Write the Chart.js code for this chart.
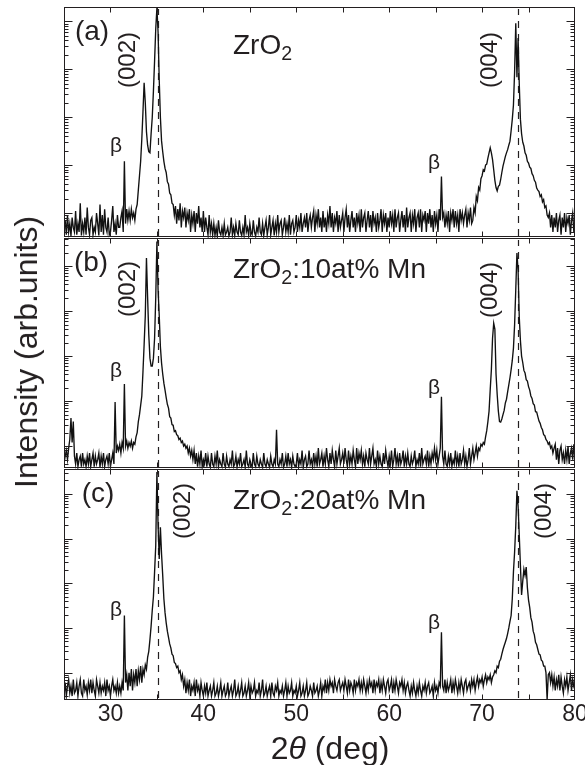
<!DOCTYPE html>
<html><head><meta charset="utf-8">
<script src="https://cdn.jsdelivr.net/npm/chart.js@4.4.1/dist/chart.umd.min.js"></script>
<style>
html,body{margin:0;padding:0;background:#fff;}
#wrap{position:relative;width:585px;height:765px;font-family:"Liberation Sans",Arial,sans-serif;color:#231f20;overflow:hidden;}
canvas{position:absolute;left:0;top:0;}
.t{position:absolute;white-space:nowrap;line-height:1;}
.c{transform:translate(-50%,-50%);}
.r{transform:translate(-50%,-50%) rotate(-90deg);}
.l{transform:translate(0,-50%);}
.s{font-size:0.7em;position:relative;top:0.32em;}
</style></head>
<body>
<div id="wrap">
<canvas id="cv" width="585" height="765"></canvas>
<div class="t r" style="left:26px;top:352px;font-size:32px;">Intensity (arb.units)</div>
<div class="t c" style="left:330px;top:748px;font-size:32px;">2<i>θ</i> (deg)</div>

<div class="t c" style="left:92px;top:31px;font-size:28px;">(a)</div>
<div class="t r" style="left:127px;top:60px;font-size:24px;">(002)</div>
<div class="t l" style="left:233px;top:45px;font-size:28px;">ZrO<span class="s">2</span></div>
<div class="t c" style="left:116px;top:144px;font-size:21px;">β</div>
<div class="t r" style="left:489px;top:60px;font-size:24px;">(004)</div>
<div class="t c" style="left:434px;top:161px;font-size:21px;">β</div>

<div class="t c" style="left:91px;top:262px;font-size:28px;">(b)</div>
<div class="t r" style="left:127px;top:289px;font-size:24px;">(002)</div>
<div class="t l" style="left:233px;top:269px;font-size:28px;">ZrO<span class="s">2</span>:10at% Mn</div>
<div class="t c" style="left:116px;top:369px;font-size:21px;">β</div>
<div class="t r" style="left:489px;top:290px;font-size:24px;">(004)</div>
<div class="t c" style="left:434px;top:386px;font-size:21px;">β</div>

<div class="t c" style="left:98px;top:493px;font-size:28px;">(c)</div>
<div class="t r" style="left:182px;top:511px;font-size:24px;">(002)</div>
<div class="t l" style="left:233px;top:500px;font-size:28px;">ZrO<span class="s">2</span>:20at% Mn</div>
<div class="t c" style="left:116px;top:608px;font-size:21px;">β</div>
<div class="t r" style="left:543px;top:511px;font-size:24px;">(004)</div>
<div class="t c" style="left:434px;top:621px;font-size:21px;">β</div>
</div>
<script>
// ---- data: scan angle 2θ (deg), one row per degree ----
const twoTheta = [
25,25.125,25.25,25.375,25.5,25.625,25.75,25.875,
26,26.125,26.25,26.375,26.5,26.625,26.75,26.875,
27,27.125,27.25,27.375,27.5,27.625,27.75,27.875,
28,28.125,28.25,28.375,28.5,28.625,28.75,28.875,
29,29.125,29.25,29.375,29.5,29.625,29.75,29.875,
30,30.125,30.25,30.375,30.5,30.625,30.75,30.875,
31,31.125,31.25,31.375,31.5,31.625,31.75,31.875,
32,32.125,32.25,32.375,32.5,32.625,32.75,32.875,
33,33.125,33.25,33.375,33.5,33.625,33.75,33.875,
34,34.125,34.25,34.375,34.5,34.625,34.75,34.875,
35,35.125,35.25,35.375,35.5,35.625,35.75,35.875,
36,36.125,36.25,36.375,36.5,36.625,36.75,36.875,
37,37.125,37.25,37.375,37.5,37.625,37.75,37.875,
38,38.125,38.25,38.375,38.5,38.625,38.75,38.875,
39,39.125,39.25,39.375,39.5,39.625,39.75,39.875,
40,40.125,40.25,40.375,40.5,40.625,40.75,40.875,
41,41.125,41.25,41.375,41.5,41.625,41.75,41.875,
42,42.125,42.25,42.375,42.5,42.625,42.75,42.875,
43,43.125,43.25,43.375,43.5,43.625,43.75,43.875,
44,44.125,44.25,44.375,44.5,44.625,44.75,44.875,
45,45.125,45.25,45.375,45.5,45.625,45.75,45.875,
46,46.125,46.25,46.375,46.5,46.625,46.75,46.875,
47,47.125,47.25,47.375,47.5,47.625,47.75,47.875,
48,48.125,48.25,48.375,48.5,48.625,48.75,48.875,
49,49.125,49.25,49.375,49.5,49.625,49.75,49.875,
50,50.125,50.25,50.375,50.5,50.625,50.75,50.875,
51,51.125,51.25,51.375,51.5,51.625,51.75,51.875,
52,52.125,52.25,52.375,52.5,52.625,52.75,52.875,
53,53.125,53.25,53.375,53.5,53.625,53.75,53.875,
54,54.125,54.25,54.375,54.5,54.625,54.75,54.875,
55,55.125,55.25,55.375,55.5,55.625,55.75,55.875,
56,56.125,56.25,56.375,56.5,56.625,56.75,56.875,
57,57.125,57.25,57.375,57.5,57.625,57.75,57.875,
58,58.125,58.25,58.375,58.5,58.625,58.75,58.875,
59,59.125,59.25,59.375,59.5,59.625,59.75,59.875,
60,60.125,60.25,60.375,60.5,60.625,60.75,60.875,
61,61.125,61.25,61.375,61.5,61.625,61.75,61.875,
62,62.125,62.25,62.375,62.5,62.625,62.75,62.875,
63,63.125,63.25,63.375,63.5,63.625,63.75,63.875,
64,64.125,64.25,64.375,64.5,64.625,64.75,64.875,
65,65.125,65.25,65.375,65.5,65.625,65.75,65.875,
66,66.125,66.25,66.375,66.5,66.625,66.75,66.875,
67,67.125,67.25,67.375,67.5,67.625,67.75,67.875,
68,68.125,68.25,68.375,68.5,68.625,68.75,68.875,
69,69.125,69.25,69.375,69.5,69.625,69.75,69.875,
70,70.125,70.25,70.375,70.5,70.625,70.75,70.875,
71,71.125,71.25,71.375,71.5,71.625,71.75,71.875,
72,72.125,72.25,72.375,72.5,72.625,72.75,72.875,
73,73.125,73.25,73.375,73.5,73.625,73.75,73.875,
74,74.125,74.25,74.375,74.5,74.625,74.75,74.875,
75,75.125,75.25,75.375,75.5,75.625,75.75,75.875,
76,76.125,76.25,76.375,76.5,76.625,76.75,76.875,
77,77.125,77.25,77.375,77.5,77.625,77.75,77.875,
78,78.125,78.25,78.375,78.5,78.625,78.75,78.875,
79,79.125,79.25,79.375,79.5,79.625,79.75,79.875,
80];

// (a) ZrO2 — intensity (arb. units), same rows as twoTheta
const countsA = [
4,7,3.5,9,4,6,3.3,8,
5,4,11,3.5,6,4,16,3.4,
6,4,8,3.5,13,5,3.5,7,
8,3.5,5,4,10,6,3.4,15,
4,9,3.5,12,5,4,8,3.5,
4,7,14,4,6,3.5,9,5,
5,8,11,4,120,6,12,7,
11,7,12,8,10,7,12,15,
30,60,120,350,1300,5200,2000,500,
260,190,180,450,1000,3500,15000,70000,
190000,60000,6000,1000,320,190,120,85,
70,45,40,26,24,16,15,9,
14,6,12,7,16,5,11,8,
13,5,10,7,12,4,9,6,
11,4,10,6,14,5,8,4,
11,4,8,5,3.5,9,4,6,
3.5,6,3.4,5,3.3,7,4,3.5,
5,3.4,6,3.5,4,5,3.3,4,
8,3.5,5,3.4,6,4,3.5,7,
4,3.4,5,3.5,9,4,5,3.4,
6,4,3.5,7,4,3.3,5,4,
8,4,3.5,6,3.4,5,7,3.5,
5,9,3.5,5,7,3.4,6,4,
9,4,6,7,3.5,5,8,4,
6,4,9,3.5,6,7,4,5,
9,4,7,5,10,4,6,8,
5,10,4,7,9,5,8,11,
4,9,6,12,5,8,4,11,
5,8,4,9,6,14,5,10,
4,8,6,11,4,9,5,7,
10,4,8,12,5,9,4,7,
11,5,8,4,10,6,9,4,
12,5,8,10,4,7,11,5,
9,4,11,6,8,4,10,5,
7,12,4,9,6,10,4,8,
5,11,6,9,4,12,5,8,
10,4,7,11,5,9,4,13,
5,8,10,4,9,6,12,4,
8,10,5,12,4,9,7,11,
4,10,6,12,5,9,4,11,
6,9,4,12,7,58,8,10,
5,9,6,11,4,10,7,12,
5,11,6,9,4,12,7,10,
6,9,12,5,10,7,13,6,
7,13,10,22,18,34,30,52,
60,80,75,100,105,140,180,230,
180,130,80,48,34,29,36,38,
50,70,95,120,150,180,210,260,
316,520,900,1800,9000,91000,6800,45000,
5000,900,450,300,250,180,160,120,
110,90,85,66,60,48,44,33,
30,28,22,24,17,19,13,14,
9,8,10,5,9,4,8,5,
10,4,7,9,3.5,8,5,10,
4,8,6,9,3.5,7,10,4,
6];

// (b) ZrO2:10at% Mn
const countsB = [
4,6,8,5,9,14,42,12,
35,6,4,7,3.5,5,6,3.5,
7,4,5,3.5,6,4,7,3.5,
5,7,3.5,6,4,5,7,3.4,
6,4,7,3.5,5,6,4,7,
3.5,5,7,4,95,7,10,8,
11,7,12,9,240,10,13,9,
12,10,13,9,12,11,16,20,
35,50,80,130,450,1800,8000,150000,
20000,3000,900,600,600,900,2500,20000,
350000,30000,8000,1600,700,400,250,175,
120,85,70,45,42,30,29,21,
22,18,17,14,15,12,13,10,
11,9,10,7,9,6,8,5,
8,4,7,3.5,6,4,8,3.5,
5,4,7,3.5,6,4,3.4,7,
4,3.5,6,4,8,3.5,5,4,
3.5,7,4,3.4,6,4,3.5,5,
4,8,3.5,4,6,3.4,5,4,
7,3.5,4,5,3.4,8,4,3.5,
5,4,3.4,7,4,3.5,6,4,
3.5,5,4,3.4,7,4,3.5,5,
4,3.4,6,4,3.5,5,4,23,
4,3.5,5,4,7,3.4,4,6,
3.5,7,4,5,3.4,6,4,3.5,
4,7,3.5,5,4,8,3.4,5,
6,3.5,4,8,4,5,3.5,7,
4,6,3.5,9,4,5,7,3.5,
6,4,9,5,3.5,7,4,8,
5,3.5,8,4,6,9,4,5,
7,4,9,5,3.5,8,4,6,
4,8,5,3.5,9,4,7,5,
8,4,6,3.5,7,5,4,9,
4,6,9,4,5,3.5,8,4,
6,4,3.5,7,4,8,5,3.5,
6,4,8,3.5,5,9,4,6,
3.5,7,4,5,8,3.5,6,4,
7,4,3.5,6,4,5,8,3.5,
5,4,7,3.5,9,4,5,6,
4,8,3.5,6,4,7,5,9,
5,8,4,6,9,125,6,4,
8,4,3.5,6,4,7,3.5,5,
4,8,4,6,3.5,7,4,5,
8,4,6,3.5,5,9,4,6,
9,5,7,10,6,9,8,11,
10,12,11,16,22,35,60,180,
500,2500,5400,4000,400,140,60,35,
34,40,50,62,90,110,160,230,
330,500,800,1500,5000,30000,195000,81000,
7400,2200,1000,720,480,420,300,280,
210,175,130,115,88,82,58,57,
45,36,32,26,23,18,17,14,
13,11,12,9,10,7,9,11,
5,9,4,8,10,5,7,4,
8,5,10,4,7,9,5,11,
6];

// (c) ZrO2:20at% Mn
const countsC = [
3.5,6,3,5,7,3.5,5,3,
7,3.5,4,6,3,5,7,3.5,
3,7,4,5,3.2,6,4,7,
3.5,6,4,3,7,5,3.5,6,
3.5,5,4,6,3,7,4,5,
3,5,7,4,5,3.5,6,3.5,
5,3.5,6,4,190,6,9,4,
10,5,12,4,9,6,12,5,
11,7,14,6,12,9,15,12,
22,30,55,110,250,500,1800,7000,
310000,20000,3500,18000,4500,1500,450,220,
130,85,62,44,36,26,24,17,
16,13,14,10,11,7,9,5,
7,3.5,6,4,7,3,5,4,
6,3,7,4,5,3,6,4,
3,5,3.5,6,3,4,5,3,
4,6,3,3.5,5,3,4,6,
3,4,5,3,3.5,6,3,4,
5,3,4,7,3,3.5,5,3,
4,6,3,3.5,5,3,4,6,
3,5,3.5,4,6,3,4,3.5,
6,3,4,7,3,3.5,5,3,
4,5,3,6,3.5,3,5,4,
6,3,4,3.5,5,3,4,6,
3,5,3.5,4,6,3,4,3.5,
5,3,4,6,3,3.5,5,3,
4,6,3,3.5,5,4,3,6,
3.5,4,5,3,4,6,3,5,
4,7,3.5,6,4,7,5,6,
3.5,7,5,4,6,7,4,5,
6,4,7,5,3.5,7,4,6,
5,3.5,7,4,6,5,7,4,
6,4,7,5,3.5,6,4,7,
5,6,3.5,7,4,6,5,7,
3.5,6,4,7,5,3.5,6,7,
4,5,7,3.5,6,4,7,5,
3.5,6,5,7,4,6,3.5,5,
6,4,3,5,3.5,6,4,3,
5,3.5,6,4,3,5,4,6,
3.5,5,6,3.5,4,5,3,6,
4,5,3.5,6,5,80,5,4,
7,3.5,6,4,5,7,3.5,6,
4,7,5,3.5,6,4,7,5,
3.5,6,7,4,5,6,4,7,
5,7,4,6,8,5,7,6,
8,5,7,9,6,8,7,9,
6,8,9,11,10,14,13,18,
20,26,33,40,48,58,75,100,
140,190,450,1800,5000,19000,117000,54000,
12000,2500,550,1100,2050,1500,2300,800,
420,290,170,135,85,70,48,42,
33,26,25,19,18,14,14,10,
2.5,9,10,6,9,5,8,4,
7,5,9,4,8,5,3.5,7,
5,8,4,6,9,4,7,5,
6];

// axis settings
const xMin = 25, xMax = 80, xTickStep = 5, xLabelStep = 10;
const panelRanges = { ya: [3, 2.0e5], yb: [3.1, 4.2e5], yc: [2.45, 3.6e5] };
const refPeaks = [35.1, 73.85];

const INK = '#231f20';
const toPts = (xs, ys) => xs.map((x, i) => ({ x, y: ys[i] }));

const framePlugin = {
  id: 'frame',
  beforeDatasetsDraw(chart) {
    const ctx = chart.ctx, xs = chart.scales.x;
    ctx.save();
    ctx.strokeStyle = INK; ctx.lineWidth = 1.2; ctx.setLineDash([7, 6]);
    ['ya', 'yb', 'yc'].forEach(id => {
      const s = chart.scales[id];
      refPeaks.forEach(v => {
        const px = Math.round(xs.getPixelForValue(v)) + 0.5;
        ctx.beginPath(); ctx.moveTo(px, s.bottom - 2); ctx.lineTo(px, s.top + 2); ctx.stroke();
      });
    });
    ctx.restore();
  },
  afterDatasetsDraw(chart) {
    const ctx = chart.ctx, xs = chart.scales.x;
    const L = Math.round(xs.left) + 0.5, R = Math.round(xs.right) - 0.5;
    ctx.save();
    ctx.strokeStyle = INK; ctx.lineWidth = 1; ctx.setLineDash([]);
    ['ya', 'yb', 'yc'].forEach((id, i) => {
      const s = chart.scales[id];
      const T = Math.round(s.top) + 0.5;
      const B = Math.round(s.bottom) - (i < 2 ? 1.5 : 0.5);
      ctx.strokeRect(L, T, R - L, B - T);
      ctx.beginPath();
      xs.ticks.forEach(t => {
        if (t.value <= xMin || t.value >= xMax) return;
        const px = Math.round(xs.getPixelForValue(t.value)) + 0.5;
        ctx.moveTo(px, T); ctx.lineTo(px, T + 5);
        ctx.moveTo(px, B); ctx.lineTo(px, B - 5);
      });
      const [mn, mx] = panelRanges[id];
      for (let e = -1; e <= 6; e++) {
        for (let m = 1; m <= 9; m++) {
          const v = m * Math.pow(10, e);
          if (v <= mn || v >= mx) continue;
          const py = Math.round(s.getPixelForValue(v)) + 0.5;
          const len = m === 1 ? 8 : 4;
          ctx.moveTo(L, py); ctx.lineTo(L + len, py);
          ctx.moveTo(R, py); ctx.lineTo(R - len, py);
        }
      }
      ctx.stroke();
    });
    ctx.restore();
  }
};

const yAxis = (id, w) => ({
  type: 'logarithmic', min: panelRanges[id][0], max: panelRanges[id][1],
  position: 'left', stack: 'panels', stackWeight: 1, weight: w,
  ticks: { display: false }, grid: { display: false }, border: { display: false },
  afterFit(s) { s.width = 0; }
});

const lineDs = (ys, axis) => ({
  data: toPts(twoTheta, ys), yAxisID: axis, xAxisID: 'x',
  borderColor: '#111', borderWidth: 1.35, pointRadius: 0, tension: 0, fill: false
});

new Chart(document.getElementById('cv'), {
  type: 'line',
  data: { datasets: [
    lineDs(countsA, 'ya'),
    lineDs(countsB, 'yb'),
    lineDs(countsC, 'yc')
  ] },
  options: {
    responsive: false, animation: false, events: [],
    layout: { padding: { left: 64, right: 10, top: 7, bottom: 0 } },
    plugins: { legend: { display: false }, tooltip: { enabled: false } },
    scales: {
      x: {
        type: 'linear', min: xMin, max: xMax, position: 'bottom',
        grid: { display: false, drawTicks: false }, border: { display: false },
        ticks: {
          stepSize: xTickStep, autoSkip: false, maxRotation: 0, padding: 1,
          color: INK, font: { family: '"Liberation Sans", Arial, sans-serif', size: 23 },
          callback: v => (v % xLabelStep === 0 && v > xMin) ? String(v) : ''
        },
        afterFit(s) { s.height = 65; s.paddingLeft = 0; s.paddingRight = 0; }
      },
      ya: yAxis('ya', 3),
      yb: yAxis('yb', 2),
      yc: yAxis('yc', 1)
    }
  },
  plugins: [framePlugin]
});
</script>
</body></html>
